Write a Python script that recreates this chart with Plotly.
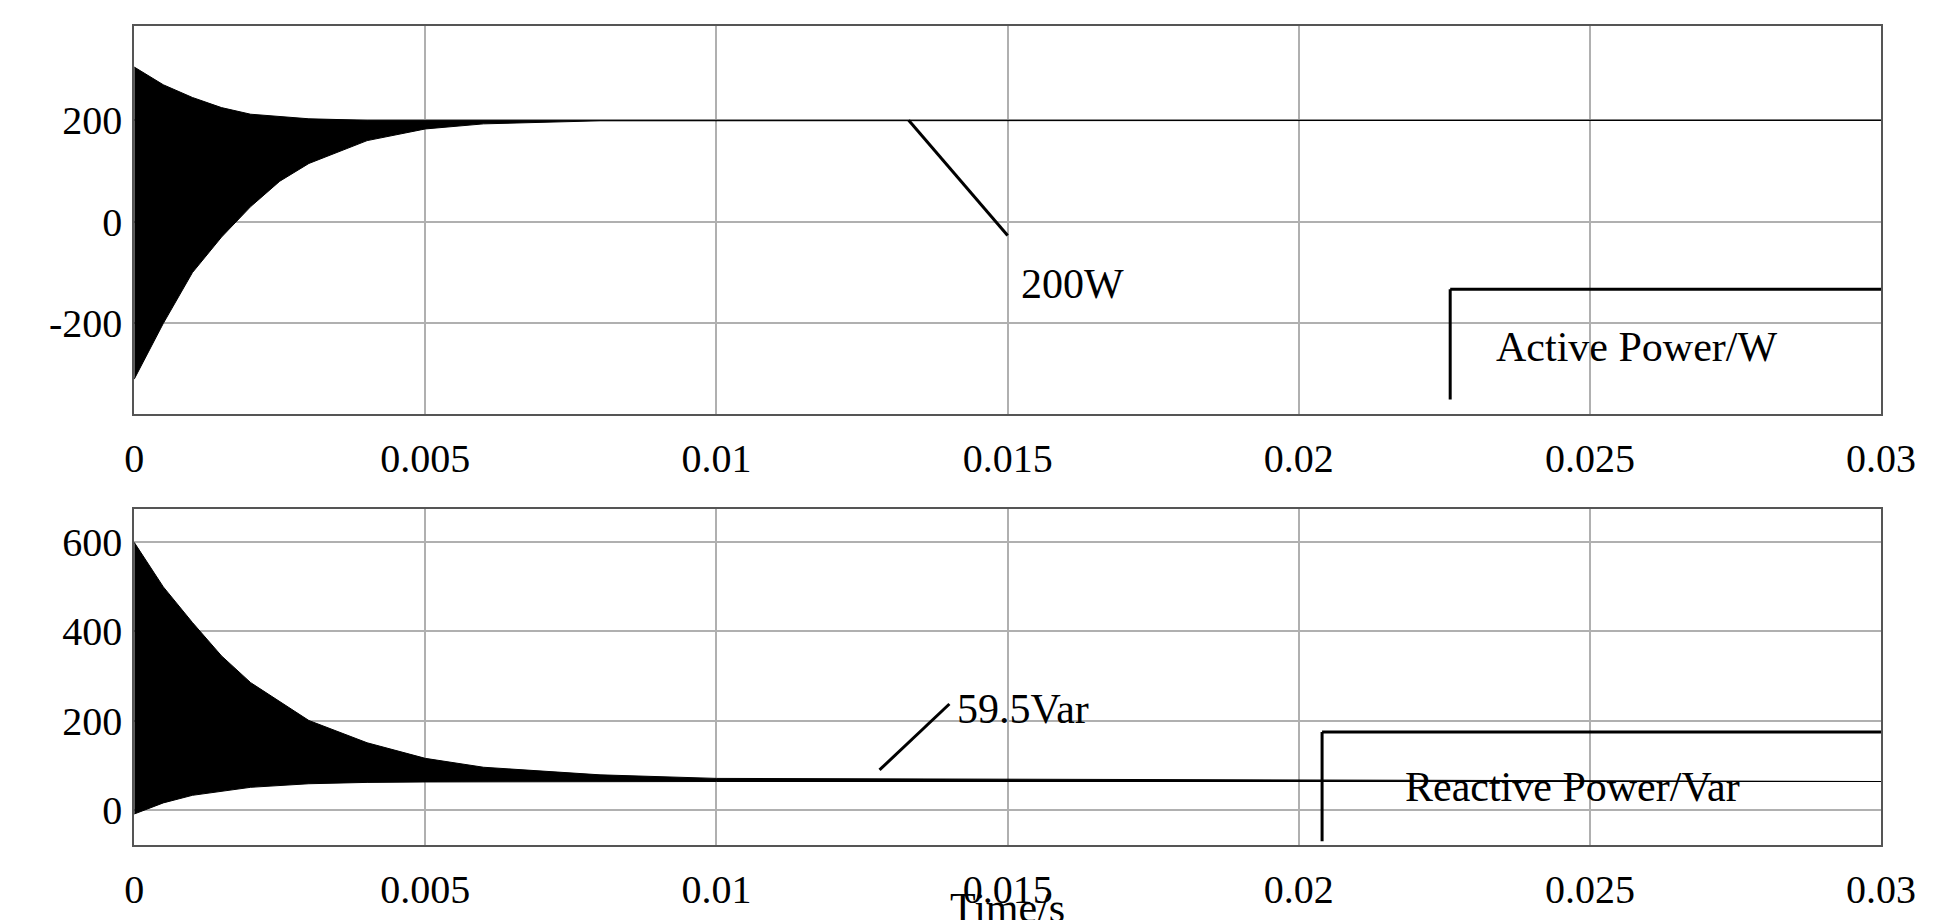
import plotly.graph_objects as go
from plotly.subplots import make_subplots

# Active power envelope (W)
p_t_up = [0, 0.0005, 0.001, 0.0015, 0.002, 0.003, 0.004, 0.005, 0.007, 0.03]
p_up = [305, 270, 245, 225, 212, 203, 200, 200, 200, 200]
p_t_lo = [0, 0.0005, 0.001, 0.0015, 0.002, 0.0025, 0.003, 0.004, 0.005, 0.006, 0.008, 0.03]
p_lo = [-310, -200, -100, -30, 30, 80, 115, 160, 183, 193, 199, 200]
# Reactive power envelope (Var)
q_t_up = [0, 0.0005, 0.001, 0.0015, 0.002, 0.003, 0.004, 0.005, 0.006, 0.008, 0.01, 0.03]
q_up = [600, 500, 420, 345, 285, 200, 150, 115, 95, 78, 70, 63]
q_t_lo = [0, 0.0005, 0.001, 0.002, 0.003, 0.004, 0.005, 0.007, 0.01, 0.03]
q_lo = [-10, 15, 32, 50, 58, 61, 62, 63, 63, 63]

x_ticks = [0, 0.005, 0.01, 0.015, 0.02, 0.025, 0.03]
x_labels = ["0", "0.005", "0.01", "0.015", "0.02", "0.025", "0.03"]
p_ticks = [-200, 0, 200]
p_labels = ["-200", "0", "200"]
q_ticks = [0, 200, 400, 600]
q_labels = ["0", "200", "400", "600"]

FONT = "Liberation Serif"
fig = make_subplots(rows=2, cols=1)

def band(tu, u, tl, l, row):
    fig.add_trace(go.Scatter(x=tu + tl[::-1], y=u + l[::-1], fill="toself", fillcolor="black",
                             line=dict(color="black", width=1), mode="lines", showlegend=False), row=row, col=1)

band(p_t_up, p_up, p_t_lo, p_lo, 1)
band(q_t_up, q_up, q_t_lo, q_lo, 2)

tickf = dict(family=FONT, size=40, color="black")
for r in (1, 2):
    fig.update_xaxes(row=r, col=1, range=[0, 0.03], tickvals=x_ticks, ticktext=x_labels,
                     showgrid=True, gridcolor="#b0b0b0", gridwidth=2, showline=True, mirror=True,
                     linecolor="#555", linewidth=2, zeroline=False, ticks="", ticklabelstandoff=8,
                     tickfont=tickf, domain=[0.061, 0.978])
fig.update_yaxes(row=1, col=1, range=[-378, 385], tickvals=p_ticks, ticktext=p_labels, domain=[0.559, 0.98])
fig.update_yaxes(row=2, col=1, range=[-80, 674], tickvals=q_ticks, ticktext=q_labels, domain=[0.09, 0.455])
fig.update_yaxes(showgrid=True, gridcolor="#b0b0b0", gridwidth=2, showline=True, mirror=True,
                 linecolor="#555", linewidth=2, zeroline=False, ticks="", ticklabelstandoff=2,
                 tickfont=tickf)

ln = dict(color="black", width=3)
fig.add_shape(type="line", x0=0.0133, y0=200, x1=0.015, y1=-27, line=ln, xref="x", yref="y")
fig.add_shape(type="line", x0=0.0226, y0=-350, x1=0.0226, y1=-133, line=ln, xref="x", yref="y")
fig.add_shape(type="line", x0=0.0226, y0=-133, x1=0.03, y1=-133, line=ln, xref="x", yref="y")
fig.add_shape(type="line", x0=0.0128, y0=89, x1=0.014, y1=237, line=ln, xref="x2", yref="y2")
fig.add_shape(type="line", x0=0.0204, y0=-71, x1=0.0204, y1=174, line=ln, xref="x2", yref="y2")
fig.add_shape(type="line", x0=0.0204, y0=174, x1=0.03, y1=174, line=ln, xref="x2", yref="y2")

tf = dict(family=FONT, size=42, color="black")
fig.add_annotation(x=0.0152, y=-122, text="200W", showarrow=False, xanchor="left", font=tf, xref="x", yref="y")
fig.add_annotation(x=0.0258, y=-247, text="Active Power/W", showarrow=False, font=tf, xref="x", yref="y")
fig.add_annotation(x=0.0141, y=226, text="59.5Var", showarrow=False, xanchor="left", font=tf, xref="x2", yref="y2")
fig.add_annotation(x=0.0247, y=51, text="Reactive Power/Var", showarrow=False, font=tf, xref="x2", yref="y2")
fig.add_annotation(x=0.015, y=-0.005, text="Time/s", showarrow=False, xref="x2", yref="paper", yanchor="bottom", font=tf)

fig.update_layout(width=1950, height=920, margin=dict(l=0, r=0, t=0, b=0),
                  plot_bgcolor="white", paper_bgcolor="white", showlegend=False)
fig.write_html("out.html")
